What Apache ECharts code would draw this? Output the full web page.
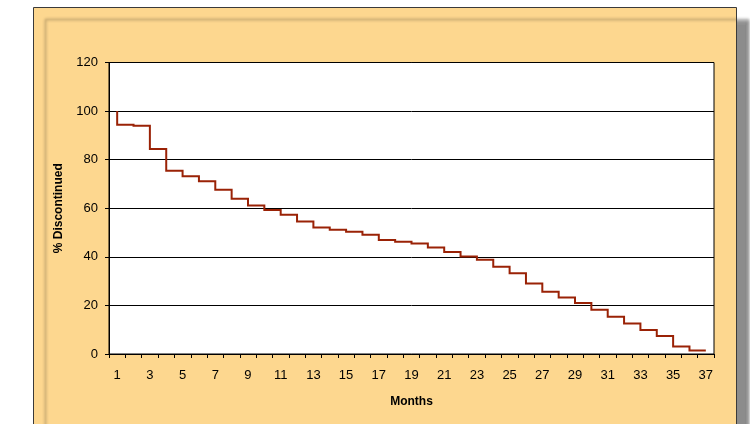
<!DOCTYPE html>
<html>
<head>
<meta charset="utf-8">
<script src="https://cdn.jsdelivr.net/npm/echarts@6/dist/echarts.min.js"></script>
<style>
html,body{margin:0;padding:0;background:#ffffff;}
#chart{width:750px;height:424px;}
</style>
</head>
<body>
<div id="chart"></div>
<script>
var months = ['1','2','3','4','5','6','7','8','9','10','11','12','13','14','15','16','17','18','19','20','21','22','23','24','25','26','27','28','29','30','31','32','33','34','35','36','37'];
var percentDiscontinued = [100, 94.4, 94.0, 84.4, 75.4, 73.2, 71.1, 67.6, 63.9, 61.1, 59.3, 57.3, 54.5, 52.1, 51.2, 50.3, 49.1, 46.9, 46.2, 45.5, 43.8, 42.0, 40.1, 38.8, 35.9, 33.2, 29.0, 25.6, 23.3, 21.0, 18.2, 15.3, 12.6, 9.9, 7.4, 3.1, 1.4];
var yTicks = { min: 0, max: 120, interval: 20 };

var chart = echarts.init(document.getElementById('chart'));
var font = 'Liberation Sans, Arial, sans-serif';

// Step line ("start" style): at each month the curve drops to that month's value.
function renderStep(params, api) {
  if (params.dataIndex !== 0) return null;
  var pts = [];
  for (var k = 0; k < percentDiscontinued.length; k++) {
    var p = api.coord([k, percentDiscontinued[k]]);
    if (k > 0) {
      var prev = api.coord([k - 1, percentDiscontinued[k]]);
      pts.push(prev);
    }
    pts.push(p);
  }
  return {
    type: 'polyline',
    shape: { points: pts },
    style: { fill: null, stroke: '#9A2206', lineWidth: 2, lineJoin: 'miter' },
    silent: true
  };
}

chart.setOption({
  backgroundColor: '#ffffff',
  animation: false,
  graphic: [
    {
      type: 'rect', z: -10, silent: true,
      shape: { x: 33.5, y: 7.5, width: 703, height: 440 },
      style: {
        fill: '#FDD78F', stroke: '#3a3a3a', lineWidth: 1,
        shadowBlur: 3, shadowOffsetX: 12, shadowOffsetY: 12, shadowColor: 'rgba(0,0,0,0.45)'
      }
    }
  ],
  grid: {
    left: 109, top: 62.5, right: 36, bottom: 70,
    show: true, backgroundColor: '#ffffff', borderColor: '#000000', borderWidth: 1
  },
  xAxis: {
    type: 'category',
    data: months,
    boundaryGap: true,
    name: 'Months',
    nameLocation: 'middle',
    nameGap: 42,
    nameTextStyle: { fontFamily: font, fontSize: 12, fontWeight: 'bold', color: '#000' },
    axisLine: { lineStyle: { color: '#000', width: 1 } },
    axisTick: { show: true, inside: false, length: 4, interval: 0, lineStyle: { color: '#000' } },
    axisLabel: { interval: 1, margin: 15, fontFamily: font, fontSize: 13, color: '#000' },
    splitLine: { show: false }
  },
  yAxis: {
    type: 'value',
    min: yTicks.min, max: yTicks.max, interval: yTicks.interval,
    name: '% Discontinued',
    nameLocation: 'middle',
    nameGap: 44,
    nameTextStyle: { fontFamily: font, fontSize: 12, fontWeight: 'bold', color: '#000' },
    axisLine: { show: true, lineStyle: { color: '#000', width: 1 } },
    axisTick: { show: true, inside: false, length: 4, lineStyle: { color: '#000' } },
    axisLabel: { margin: 11, fontFamily: font, fontSize: 13, color: '#000' },
    splitLine: { show: true, lineStyle: { color: '#000', width: 1 } }
  },
  series: [{
    type: 'custom',
    renderItem: renderStep,
    data: percentDiscontinued.map(function (v, i) { return [i, v]; }),
    encode: { x: 0, y: 1 },
    clip: true,
    z: 5
  }]
});
</script>
</body>
</html>
